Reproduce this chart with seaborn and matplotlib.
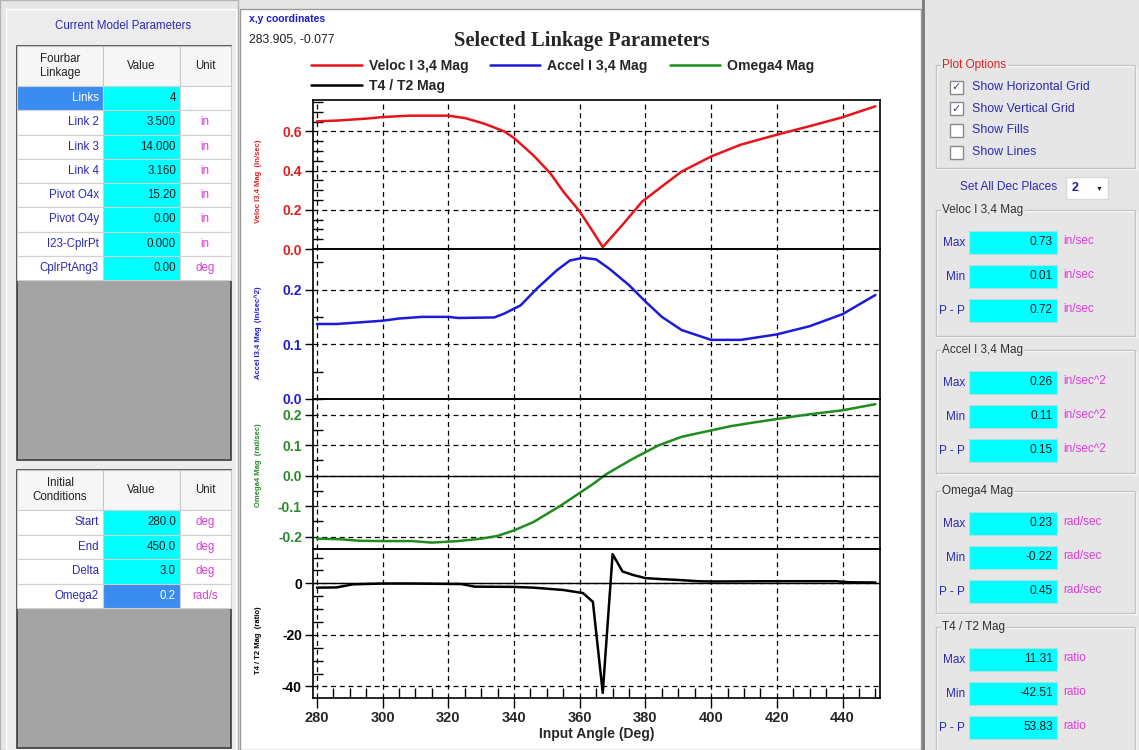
import numpy as np
import pandas as pd
import matplotlib
matplotlib.use("Agg")
import matplotlib.pyplot as plt
import seaborn as sns
from matplotlib.patches import Rectangle
from matplotlib.ticker import MultipleLocator, FixedLocator

# ---------------- data ----------------
veloc_angle = [280, 286, 295, 300, 308, 320, 325, 331, 337, 340, 346, 351, 355, 360,
               364, 367, 373, 379, 385, 391, 400, 409, 420, 431, 440, 450]
veloc_mag = [0.651, 0.655, 0.665, 0.673, 0.680, 0.680, 0.668, 0.639, 0.600, 0.566, 0.476,
             0.387, 0.293, 0.191, 0.089, 0.010, 0.123, 0.242, 0.319, 0.395, 0.472, 0.532,
             0.583, 0.631, 0.672, 0.728]

accel_angle = [280, 286, 293, 300, 305, 312, 320, 323, 334, 337, 342, 347, 353, 357, 361,
               365, 369, 375, 380, 385, 391, 396, 400, 409, 420, 430, 440, 450]
accel_mag = [0.137, 0.137, 0.140, 0.143, 0.147, 0.150, 0.150, 0.148, 0.149, 0.156, 0.171,
             0.202, 0.235, 0.253, 0.258, 0.255, 0.238, 0.208, 0.178, 0.150, 0.126, 0.116,
             0.108, 0.108, 0.118, 0.133, 0.155, 0.190]

omega_angle = [280, 287, 293, 300, 309, 315, 323, 330, 335, 340, 346, 354, 360, 364, 368,
               376, 384, 391, 400, 406, 413, 423, 430, 440, 446, 450]
omega_mag = [-0.207, -0.209, -0.214, -0.215, -0.215, -0.220, -0.215, -0.207, -0.198, -0.180,
             -0.152, -0.100, -0.057, -0.028, 0.004, 0.054, 0.099, 0.127, 0.148, 0.162,
             0.174, 0.190, 0.201, 0.214, 0.226, 0.234]

t4_angle = [280, 286, 291, 300, 309, 324, 328, 340, 346, 350, 355, 361, 364, 367, 370,
            373, 376, 380, 385, 390, 396, 400, 419, 438, 442, 450]
t4_ratio = [-1.7, -1.6, -0.4, -0.1, -0.1, -0.3, -1.3, -1.4, -1.7, -2.1, -2.6, -3.8, -7.2,
            -42.51, 11.31, 4.6, 3.3, 2.0, 1.6, 1.3, 0.8, 0.7, 0.8, 0.8, 0.4, 0.3]

series_names = ["Veloc I 3,4 Mag", "Accel I 3,4 Mag", "Omega4 Mag", "T4 / T2 Mag"]
axis_labels = ["Veloc I3,4 Mag  (in/sec)", "Accel I3,4 Mag  (in/sec^2)",
               "Omega4 Mag  (rad/sec)", "T4 / T2 Mag  (ratio)"]
x_ticks = [280, 300, 320, 340, 360, 380, 400, 420, 440]
y_ticks_veloc = [0.0, 0.2, 0.4, 0.6]
y_ticks_accel = [0.0, 0.1, 0.2]
y_ticks_omega = [-0.2, -0.1, 0.0, 0.1, 0.2]
y_ticks_t4 = [-40, -20, 0]

model_rows = ["Links", "Link 2", "Link 3", "Link 4", "Pivot O4x", "Pivot O4y", "I23-CplrPt", "CplrPtAng3"]
model_vals = ["4", "3.500", "14.000", "3.160", "15.20", "0.00", "0.000", "0.00"]
model_units = ["", "in", "in", "in", "in", "in", "in", "deg"]
init_rows = ["Start", "End", "Delta", "Omega2"]
init_vals = ["280.0", "450.0", "3.0", "0.2"]
init_units = ["deg", "deg", "deg", "rad/s"]

stat_max = ["0.73", "0.26", "0.23", "11.31"]
stat_min = ["0.01", "0.11", "-0.22", "-42.51"]
stat_pp = ["0.72", "0.15", "0.45", "53.83"]
stat_units = ["in/sec", "in/sec^2", "rad/sec", "ratio"]
plot_options = ["Show Horizontal Grid", "Show Vertical Grid", "Show Fills", "Show Lines"]
plot_checked = [True, True, False, False]

# ---------------- style ----------------
sns.set_theme(style="white")
plt.rcParams['font.family'] = ['Liberation Sans', 'DejaVu Sans']

W, H = 1139, 750
fig = plt.figure(figsize=(W / 100, H / 100), dpi=100)
fig.patch.set_facecolor('#e6e6e6')
bg = fig.add_axes([0, 0, 1, 1], zorder=0)
bg.set_xlim(0, W)
bg.set_ylim(H, 0)
bg.axis('off')

LBL = '#2a2ab4'
UNIT = '#dc3cdc'
CYAN = '#00ffff'
SEL = '#3a8cf0'
PANEL = '#e6e6e6'


def rect(x0, y0, x1, y1, fc, ec='none', lw=1.0, z=1):
    bg.add_patch(Rectangle((x0, y0), x1 - x0, y1 - y0, facecolor=fc, edgecolor=ec,
                           linewidth=lw, zorder=z))


def txt(x, y, s, **kw):
    kw.setdefault('va', 'center')
    kw.setdefault('size', 8)
    bg.text(x, y, s, zorder=5, **kw)


# ---------------- left panel ----------------
rect(0, 0, 238, 750, PANEL, ec='#b4b4b4', lw=1)
rect(6, 9, 236, 750, '#ececec', ec='#ffffff', lw=1)
txt(123, 26, "Current Model Parameters", ha='center', color=LBL, size=8.3)


def table(y_top, hdr, hdr_h, names, vals, units, row_h, bottom, sel_name=None, sel_val=None):
    rect(17, y_top, 231, bottom, '#a4a4a4', ec='#3c3c3c', lw=1.2)
    cols = [(17, 103), (103, 180), (180, 231)]
    for (x0, x1), s in zip(cols, hdr):
        rect(x0, y_top, x1, y_top + hdr_h, '#f6f6f6', ec='#c8c8c8', lw=0.8, z=2)
        txt((x0 + x1) / 2, y_top + hdr_h / 2, s, ha='center', color='#202020',
            size=8.3, linespacing=1.15)
    y = y_top + hdr_h
    for i, (n, v, u) in enumerate(zip(names, vals, units)):
        nfc = SEL if i == sel_name else 'white'
        vfc = SEL if i == sel_val else CYAN
        rect(17, y, 103, y + row_h, nfc, ec='#d0d0d0', lw=0.8, z=2)
        rect(103, y, 180, y + row_h, vfc, ec='#d0d0d0', lw=0.8, z=2)
        rect(180, y, 231, y + row_h, 'white', ec='#d0d0d0', lw=0.8, z=2)
        txt(99, y + row_h / 2, n, ha='right', color='white' if i == sel_name else LBL, size=8.3)
        txt(176, y + row_h / 2, v, ha='right', color='white' if i == sel_val else '#202020', size=8.3)
        txt(205, y + row_h / 2, u, ha='center', color=UNIT, size=8.3)
        y += row_h


table(46, ["Fourbar\nLinkage", "Value", "Unit"], 40, model_rows, model_vals, model_units,
      24.25, 460, sel_name=0)
table(470, ["Initial\nConditions", "Value", "Unit"], 40, init_rows, init_vals, init_units,
      24.5, 748, sel_val=3)

# ---------------- center panel ----------------
rect(240, 9, 921, 750, 'white', ec='#9a9a9a', lw=1)
txt(249, 19, "x,y coordinates", ha='left', color='#1a1ad0', size=7.5, weight='bold')
txt(249, 40, "283.905, -0.077", ha='left', color='#202020', size=8.8)
fig.text(582 / W, 1 - 41 / H, "Selected Linkage Parameters", ha='center', va='center',
         family=['Liberation Serif', 'DejaVu Serif'], weight='bold', size=14.8)

# ---------------- right panel ----------------
rect(922, 0, 1139, 750, PANEL, z=1)
bg.plot([923, 923], [0, 750], color='#7a7a7a', lw=2, zorder=3)


def group(x0, y0, x1, y1, label, color='#303030'):
    rect(x0 + 1, y0 + 1, x1 + 1, y1 + 1, 'none', ec='white', lw=1, z=2)
    rect(x0, y0, x1, y1, 'none', ec='#c4c4c4', lw=1, z=2)
    txt(x0 + 6, y0, label, ha='left', color=color, size=8.5,
        bbox=dict(facecolor=PANEL, edgecolor='none', pad=1))


group(936, 65, 1135, 168, "Plot Options", color='#e02020')
for i, (s, chk) in enumerate(zip(plot_options, plot_checked)):
    yc = 87 + i * 21.7
    rect(950, yc - 6.5, 963, yc + 6.5, 'white', ec='#8a8a8a', lw=1, z=3)
    if chk:
        txt(956.5, yc, "\u2713", ha='center', color='#404060', size=8)
    txt(972, yc, s, ha='left', color=LBL, size=8.9)

txt(1057, 187, "Set All Dec Places", ha='right', color=LBL, size=8.6)
rect(1066, 177, 1108, 199, 'white', ec='#d8d8d8', lw=1, z=3)
txt(1072, 188, "2", ha='left', color='#1a1ab0', size=9, weight='bold')
txt(1099, 189, "\u25bc", ha='center', color='#202020', size=5)

group_tops = [210, 350, 491, 627]
group_bots = [336, 473, 613, 760]
for g in range(4):
    group(936, group_tops[g], 1135, group_bots[g], series_names[g])
    for j, (lab, vals) in enumerate(zip(["Max", "Min", "P - P"], [stat_max, stat_min, stat_pp])):
        yc = group_tops[g] + 32 + j * 34
        rect(969, yc - 11.5, 1057, yc + 11.5, CYAN, ec='#b0e0e0', lw=0.8, z=3)
        txt(965, yc + 1, lab, ha='right', color=LBL, size=8.5)
        txt(1053, yc, vals[g], ha='right', color='#202020', size=8.6)
        txt(1063, yc - 1, stat_units[g], ha='left', color=UNIT, size=8.5)

# ---------------- chart ----------------
colors = ['#e8141c', '#1c1cd8', '#1e8c1e', '#000000']
label_colors = ['#e01e1e', '#1e1ed0', '#2a8a2a', '#000000']
frames = [
    pd.DataFrame({'angle': veloc_angle, 'value': veloc_mag}),
    pd.DataFrame({'angle': accel_angle, 'value': accel_mag}),
    pd.DataFrame({'angle': omega_angle, 'value': omega_mag}),
    pd.DataFrame({'angle': t4_angle, 'value': t4_ratio}),
]
ylims = [(0, 0.76), (0, 0.274), (-0.241, 0.251), (-44.5, 13.3)]
yticks = [y_ticks_veloc, y_ticks_accel, y_ticks_omega, y_ticks_t4]
ytick_fmt = ["{:.1f}", "{:.1f}", "{:.1f}", "{:.0f}"]
minor_step = [0.05, 0.05, 0.05, 5]
pix = [(100, 249), (249, 399), (399, 549), (549, 698)]
ylabel_y = [181, 333, 465, 640]

handles = []
axes = []
for i in range(4):
    y0, y1 = pix[i]
    ax = fig.add_axes([313 / W, 1 - y1 / H, 567 / W, (y1 - y0) / H], zorder=2)
    ax.set_facecolor('none')
    sns.lineplot(data=frames[i], x='angle', y='value', ax=ax, color=colors[i],
                 linewidth=1.8, label=series_names[i], sort=False)
    if ax.get_legend() is not None:
        ax.get_legend().remove()
    handles.append(ax.get_lines()[0])
    ax.set_xlim(278.8, 451.4)
    ax.set_ylim(*ylims[i])
    ax.set_xlabel('')
    ax.set_ylabel('')
    ax.xaxis.set_major_locator(FixedLocator(x_ticks))
    ax.set_yticks(yticks[i])
    ax.set_yticklabels([ytick_fmt[i].format(v) for v in yticks[i]], fontweight='bold',
                       color=label_colors[i], fontsize=10)
    ax.yaxis.set_minor_locator(MultipleLocator(minor_step[i]))
    ax.grid(True, which='major', axis='both', color='black', linestyle=(0, (4, 3)),
            linewidth=0.9)
    ax.tick_params(axis='y', which='major', direction='out', length=6, width=1,
                   color='black', left=True, pad=2)
    ax.tick_params(axis='y', which='minor', direction='in', length=7, width=1,
                   color='black', left=True)
    if i in (2, 3):
        ax.axhline(0, color='black', linewidth=1.0, zorder=3)
    for sp in ax.spines.values():
        sp.set_color('black')
        sp.set_linewidth(1.2)
        sp.set_visible(True)
    if i < 3:
        ax.tick_params(axis='x', which='both', length=0, labelbottom=False)
    else:
        ax.xaxis.set_minor_locator(MultipleLocator(5))
        ax.set_xticklabels([str(v) for v in x_ticks], fontweight='bold', fontsize=10.5)
        ax.tick_params(axis='x', which='major', direction='out', length=7, width=1,
                       color='black', bottom=True, pad=2)
        ax.tick_params(axis='x', which='minor', direction='in', length=7, width=1,
                       color='black', bottom=True)
        ax.set_xlabel("Input Angle (Deg)", fontweight='bold', fontsize=10, labelpad=2)
    fig.text(258 / W, 1 - ylabel_y[i] / H, axis_labels[i], rotation=90, ha='center',
             va='center', color=label_colors[i], size=5.5, weight='bold')
    axes.append(ax)

order = [0, 3, 1, 2]
fig.legend([handles[k] for k in order], [series_names[k] for k in order], ncol=3,
           loc='upper left', bbox_to_anchor=(311 / W, 1 - 59 / H), frameon=False,
           handlelength=3.6, handletextpad=0.5, columnspacing=1.55, labelspacing=0.42,
           borderpad=0, borderaxespad=0, prop={'size': 10.1, 'weight': 'bold'})

fig.savefig("out.png", dpi=100, facecolor=fig.get_facecolor())
